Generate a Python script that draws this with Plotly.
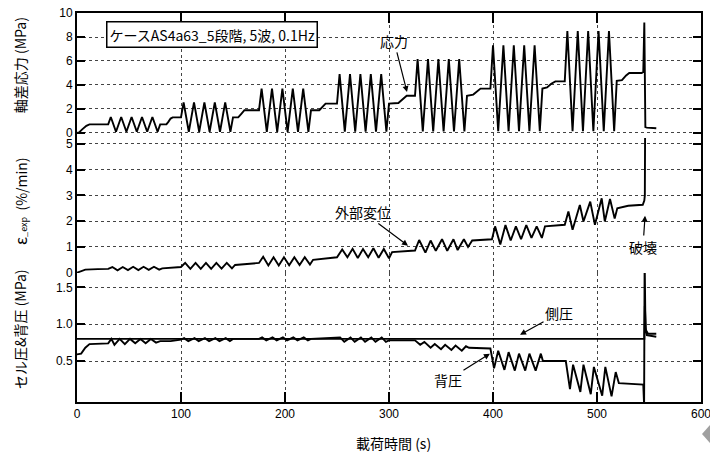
import plotly.graph_objects as go

# ---- 軸差応力 (MPa) ----
stress_t = [0, 2, 5, 9, 12,
            30, 32.5, 37.5, 42.5, 47.5, 52.5, 57.5, 62.5, 67.5, 72.5, 77.5, 80,
            86, 88, 90, 92,
            100, 102.5, 107.5, 112.5, 117.5, 122.5, 127.5, 132.5, 137.5, 142.5, 147.5, 150,
            155, 158, 161,
            175, 177.5, 182.5, 187.5, 192.5, 197.5, 202.5, 207.5, 212.5, 217.5, 222.5, 225,
            233, 236, 239,
            250, 252.5, 257.5, 262.5, 267.5, 272.5, 277.5, 282.5, 287.5, 292.5, 297.5, 300,
            309, 313, 317,
            325, 327.5, 332.5, 337.5, 342.5, 347.5, 352.5, 357.5, 362.5, 367.5, 372.5, 375,
            381, 385, 388,
            397.5, 400, 405, 410, 415, 420, 425, 430, 435, 440, 445, 447.5,
            452, 456, 460,
            469, 471.5, 476.5, 481.5, 486.5, 491.5, 496.5, 501.5, 506.5, 511.5, 516.5, 519,
            524, 528, 531, 543, 544.5, 545.5, 546.5, 548, 557]
stress_v = [0, 0.05, 0.3, 0.6, 0.72,
            0.72, 1.33, 0.1, 1.33, 0.1, 1.33, 0.1, 1.33, 0.1, 1.33, 0.1, 0.72,
            0.72, 0.95, 1.2, 1.3,
            1.3, 2.55, 0.1, 2.55, 0.1, 2.55, 0.1, 2.55, 0.1, 2.55, 0.1, 1.3,
            1.3, 1.6, 1.9,
            1.9, 3.7, 0.1, 3.7, 0.1, 3.7, 0.1, 3.7, 0.1, 3.7, 0.1, 1.9,
            1.9, 2.2, 2.45,
            2.45, 4.9, 0.12, 4.9, 0.12, 4.9, 0.12, 4.9, 0.12, 4.9, 0.12, 2.45,
            2.5, 2.8, 3.1,
            3.1, 6.15, 0.12, 6.15, 0.12, 6.15, 0.12, 6.15, 0.12, 6.15, 0.12, 3.1,
            3.2, 3.5, 3.7,
            3.7, 7.3, 0.15, 7.3, 0.15, 7.3, 0.15, 7.3, 0.15, 7.3, 0.15, 3.7,
            3.8, 4.1, 4.3,
            4.3, 8.5, 0.15, 8.5, 0.15, 8.5, 0.15, 8.5, 0.15, 8.5, 0.15, 4.35,
            4.4, 4.8, 5.0, 5.0, 5.1, 9.2, 0.5, 0.45, 0.4]

# ---- ε_exp (%/min) ----
rate_t = [0, 3, 8, 20, 30,
          34, 39, 44, 49, 54, 59, 64, 69, 74, 79, 82,
          90, 98, 100,
          104, 109, 114, 119, 124, 129, 134, 139, 144, 149, 152,
          160, 170, 175,
          179, 184, 189, 194, 199, 204, 209, 214, 219, 224, 227,
          235, 245, 250,
          255, 260, 265, 270, 275, 280, 285, 290, 295, 300, 303,
          315, 325,
          329, 335, 340, 345, 351, 356, 362, 366, 372, 376, 380,
          390, 399,
          402, 407, 412, 417, 422, 427, 432, 437, 442, 447, 450,
          460, 469,
          472.5, 476.5, 483.5, 487, 493.5, 498, 504.5, 507.5, 512.5, 517, 519.5,
          530, 544, 545.5, 546, 546.3]
rate_v = [0, 0.05, 0.12, 0.14, 0.15,
          0.22, 0.09, 0.22, 0.1, 0.23, 0.1, 0.23, 0.11, 0.23, 0.12, 0.17,
          0.18, 0.21, 0.22,
          0.38, 0.15, 0.38, 0.15, 0.38, 0.15, 0.38, 0.16, 0.38, 0.17, 0.3,
          0.33, 0.36, 0.38,
          0.62, 0.28, 0.6, 0.28, 0.6, 0.29, 0.6, 0.3, 0.6, 0.32, 0.5,
          0.54, 0.58, 0.6,
          0.9, 0.6, 0.93, 0.57, 0.92, 0.6, 0.95, 0.58, 0.92, 0.56, 0.8,
          0.82, 0.86,
          1.27, 0.78, 1.25, 0.85, 1.3, 0.85, 1.3, 0.88, 1.3, 1.0, 1.25,
          1.27, 1.3,
          1.8, 1.1, 1.85, 1.25, 1.8, 1.3, 1.85, 1.35, 1.8, 1.35, 1.8,
          1.84, 1.86,
          2.38, 1.67, 2.63, 1.99, 2.76, 1.86, 2.89, 1.99, 2.86, 2.1, 2.5,
          2.6, 2.64, 2.8, 3.0, 6.0]

# ---- 背圧 (MPa) ----
back_t = [0, 4, 8, 12, 30,
          33, 36, 41, 46, 51, 56, 61, 66, 71, 76, 80,
          90, 100,
          103, 107, 113, 117, 123, 127, 133, 137, 143, 147, 150,
          175,
          178, 182, 188, 192, 198, 202, 208, 212, 218, 222, 225,
          250,
          253, 257, 263, 267, 273, 277, 283, 287, 293, 297, 300,
          325,
          330, 334, 340, 344, 350, 354, 360, 364, 370, 374, 377,
          397.5,
          401, 405, 411, 415, 421, 425, 431, 435, 441, 446, 448,
          470,
          474, 477, 484, 487, 494, 497, 505, 508, 514, 518, 521,
          544.5, 545.3, 545.8, 546.6, 548, 557]
back_v = [0.59, 0.6, 0.68, 0.73, 0.74,
          0.8, 0.72, 0.8, 0.73, 0.8, 0.74, 0.8, 0.74, 0.8, 0.75, 0.77,
          0.77, 0.79,
          0.81, 0.77, 0.81, 0.77, 0.81, 0.77, 0.81, 0.77, 0.81, 0.77, 0.8,
          0.8,
          0.82, 0.78, 0.82, 0.78, 0.82, 0.78, 0.82, 0.78, 0.82, 0.78, 0.8,
          0.81,
          0.82, 0.76, 0.82, 0.76, 0.82, 0.76, 0.82, 0.76, 0.82, 0.76, 0.78,
          0.78,
          0.72, 0.76, 0.68, 0.73, 0.66, 0.72, 0.65, 0.71, 0.64, 0.7, 0.68,
          0.67,
          0.4, 0.64, 0.38, 0.62, 0.37, 0.6, 0.37, 0.6, 0.37, 0.6, 0.5,
          0.5,
          0.12, 0.45, 0.08, 0.45, 0.05, 0.42, 0.03, 0.42, 0.02, 0.35, 0.2,
          0.18, -0.1, 1.9, 0.95, 0.85, 0.83]

# ---- 側圧 (MPa) ----
cell_t = [0, 545.5, 546, 547, 549, 557]
cell_v = [0.8, 0.8, 1.25, 0.92, 0.87, 0.87]

x_ticks = [0, 100, 200, 300, 400, 500, 600]
stress_ticks = [0, 2, 4, 6, 8, 10]
rate_ticks = [0, 1, 2, 3, 4, 5]
pressure_ticks = [0.5, 1.0, 1.5]

LINE = dict(color="black", width=1.9)
GRID = dict(showgrid=True, gridcolor="#444", gridwidth=1, griddash="dot",
            zeroline=False, automargin=False)
YAX = dict(ticks="inside", ticklen=8, tickwidth=2, tickcolor="black",
           showline=True, linewidth=2, linecolor="black", mirror="ticks",
           tickfont=dict(size=12), **GRID)

fig = go.Figure()
fig.add_trace(go.Scatter(x=stress_t, y=stress_v, mode="lines", line=LINE,
                         xaxis="x", yaxis="y", showlegend=False))
fig.add_trace(go.Scatter(x=rate_t, y=rate_v, mode="lines", line=LINE,
                         xaxis="x", yaxis="y2", showlegend=False))
fig.add_trace(go.Scatter(x=cell_t, y=cell_v, mode="lines", line=LINE,
                         xaxis="x", yaxis="y3", showlegend=False))
fig.add_trace(go.Scatter(x=back_t, y=back_v, mode="lines", line=LINE,
                         xaxis="x", yaxis="y3", showlegend=False))
# top frame edge carrying the upper time ticks
fig.add_trace(go.Scatter(x=[None], y=[None], mode="lines", xaxis="x2", yaxis="y",
                         showlegend=False, hoverinfo="skip"))

fig.update_layout(
    template="none",
    width=710, height=456,
    margin=dict(l=77, r=9, t=13, b=54),
    paper_bgcolor="white", plot_bgcolor="white",
    showlegend=False,
    font=dict(family="Liberation Sans, Arial, Noto Sans CJK JP", color="black", size=12),
    xaxis=dict(domain=[0, 1], range=[0, 600], anchor="y3", tickvals=x_ticks,
               ticks="inside", ticklen=10, tickwidth=2, tickcolor="black",
               showline=True, linewidth=2, linecolor="black",
               ticklabeloverflow="allow",
               tickfont=dict(size=12), **GRID),
    xaxis2=dict(overlaying="x", anchor="y", side="top", range=[0, 600], tickvals=x_ticks,
                ticks="inside", ticklen=10, tickwidth=2, tickcolor="black",
                showline=True, linewidth=2, linecolor="black", automargin=False,
                showticklabels=False, showgrid=False, zeroline=False),
    yaxis=dict(domain=[0.6787, 1], range=[-0.417, 10], tickvals=stress_ticks, **YAX),
    yaxis2=dict(domain=[0.3316, 0.6787], range=[-0.012, 5.233], tickvals=rate_ticks, **YAX),
    yaxis3=dict(domain=[0, 0.3316], range=[-0.056, 1.694], tickvals=pressure_ticks,
                tickformat=".1f", **YAX),
)

JP = "Noto Sans CJK JP"
C = dict(xanchor="center", yanchor="middle")
ann = []
# case title box
ann.append(dict(xref="paper", yref="paper", x=0.2163, y=0.9447,
                text="ケースAS4a63_5段階, 5波, 0.1Hz", showarrow=False,
                font=dict(family=JP, size=14), bgcolor="white",
                bordercolor="black", borderwidth=1.5, borderpad=2, **C))
# axis titles
for txt, yy in [("軸差応力 (MPa)", 0.866),
                ("<span style='font-size:16px'>ε</span><span style='font-size:9px'>_exp</span>  (%/min)", 0.517),
                ("セル圧&背圧 (MPa)", 0.1877)]:
    ann.append(dict(xref="paper", yref="paper", x=-0.0913, y=yy, text=txt,
                    textangle=-90, showarrow=False, font=dict(family=JP, size=14), **C))
ann.append(dict(xref="paper", yref="paper", x=0.508, y=-0.105, text="載荷時間 (s)",
                showarrow=False, font=dict(family=JP, size=14), **C))
# curve labels with arrows
ARW = dict(showarrow=True, arrowhead=2, arrowsize=1, arrowwidth=1.2, arrowcolor="black",
           font=dict(family=JP, size=14), **C)
ann.append(dict(xref="x", yref="y", x=317.3, y=3.42, axref="x", ayref="y",
                ax=304.8, ay=7.67, text="応力", **ARW))
ann.append(dict(xref="x", yref="y2", x=318.3, y=1.05, axref="x", ayref="y2",
                ax=275, ay=2.36, text="外部変位", **ARW))
ann.append(dict(xref="x", yref="y2", x=546.2, y=2.21, axref="x", ayref="y2",
                ax=544.2, ay=1.0, text="破壊", **ARW))
ann.append(dict(xref="x", yref="y3", x=426, y=0.855, axref="x", ayref="y3",
                ax=463.5, ay=1.15, text="側圧", **ARW))
ann.append(dict(xref="x", yref="y3", x=397, y=0.6, axref="x", ayref="y3",
                ax=356.7, ay=0.24, text="背圧", **ARW))
fig.update_layout(annotations=ann)

# small grey marker at the lower right corner of the page
fig.add_shape(type="path", xref="paper", yref="paper",
              path="M 1.0144,-0.0591 L 1.0016,-0.0823 L 1.0144,-0.1054 Z",
              fillcolor="#a0a0a0", line=dict(width=0))

fig.write_html("out.html")
